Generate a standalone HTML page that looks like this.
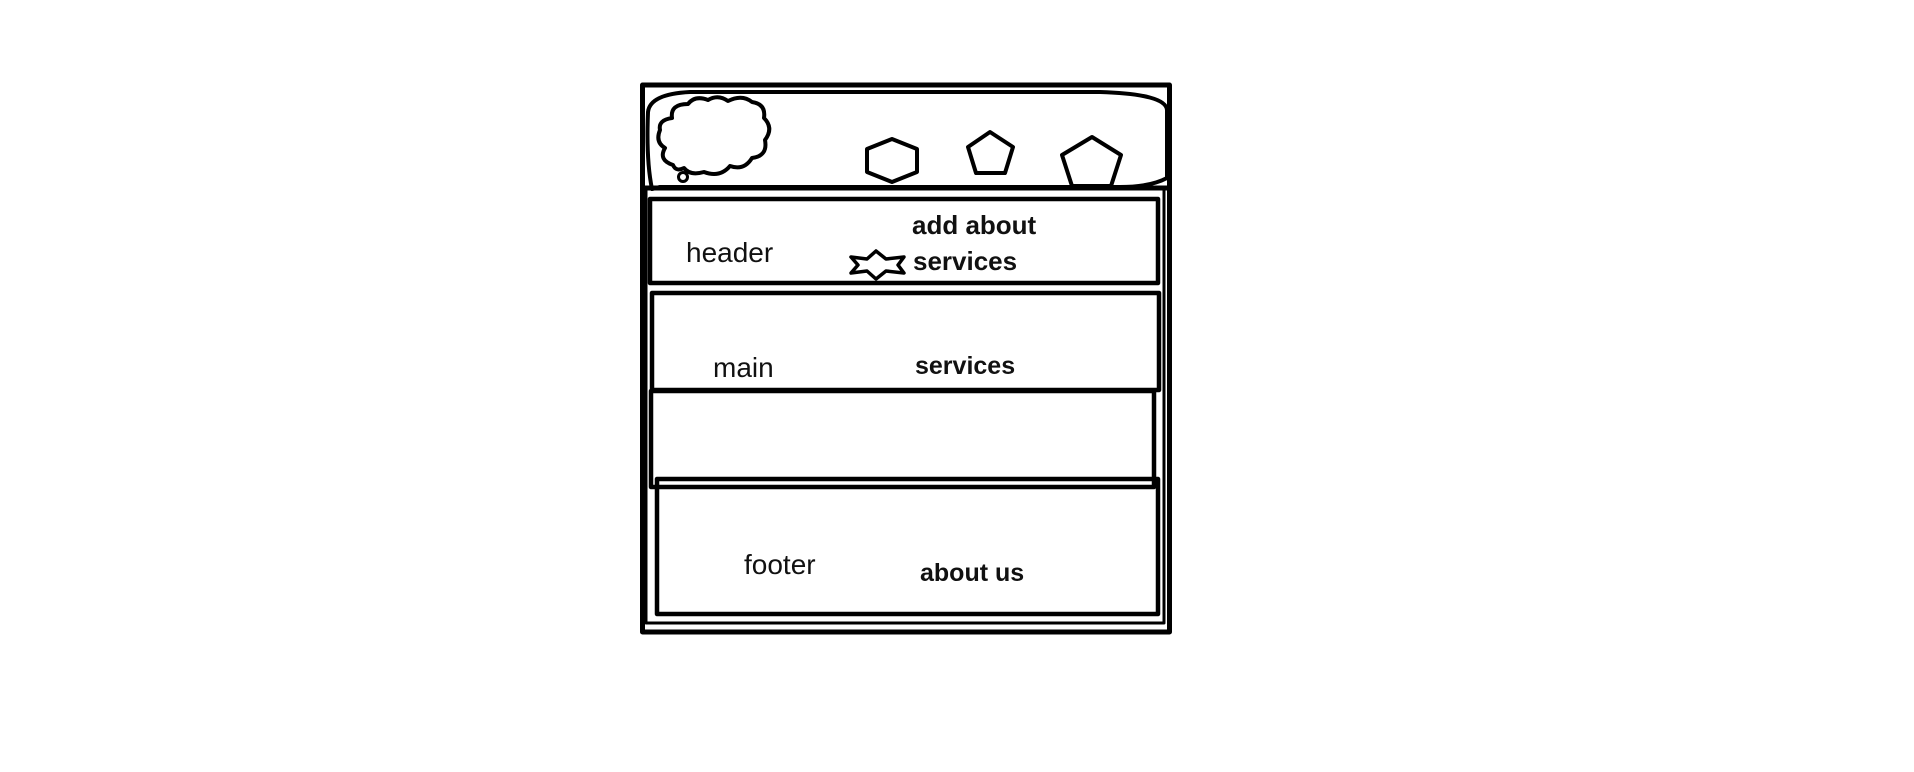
<!DOCTYPE html>
<html><head><meta charset="utf-8"><style>
html,body{margin:0;padding:0;background:#fff;width:1914px;height:772px;overflow:hidden}
svg{display:block}
text{font-family:"Liberation Sans",sans-serif;fill:#111}
</style></head><body>
<svg width="1914" height="772" viewBox="0 0 1914 772" xmlns="http://www.w3.org/2000/svg">
<g fill="none" stroke="#000" stroke-linejoin="round">
<rect x="642.5" y="85" width="527" height="547" stroke-width="5"/>
<rect x="646" y="189" width="518" height="434" stroke-width="3"/>
<path d="M652 189 Q646 160 648 112 Q650 94 690 92 L1100 92 Q1166 94 1167 110 L1167 178 Q1150 187 1120 187 L660 187 Z" stroke-width="4" fill="#fff"/>
<line x1="645" y1="188" x2="1168" y2="188" stroke-width="5"/>
<path d="M673 165 Q658 160 665 148 Q655 142 660 130 Q658 120 672 118 Q670 104 688 104 Q695 95 708 100 Q718 94 728 101 Q742 94 752 102 Q766 104 764 118 Q774 128 765 140 Q768 156 752 158 Q744 171 730 166 Q720 178 704 172 Q690 176 684 168 Q676 172 673 165 Z" stroke-width="4" fill="#fff"/>
<circle cx="683" cy="177" r="4.5" stroke-width="3"/>
<polygon points="892,139 917,149 917,172 892,182 867,172 867,149" stroke-width="4"/>
<polygon points="990,132 1013,147 1005,173 976,173 968,147" stroke-width="4"/>
<polygon points="1092,137 1121,155 1111,186 1072,186 1062,155" stroke-width="4"/>
<rect x="650" y="199" width="508" height="84" stroke-width="4.5"/>
<rect x="652" y="293" width="507" height="97" stroke-width="4.5"/>
<rect x="651" y="391" width="503" height="96" stroke-width="4.5"/>
<rect x="657" y="479" width="501" height="135" stroke-width="4.5"/>
<polygon points="851,257 867,259 876,251 886,259 904,257 898,265 904,273 886,271 876,279 867,271 851,273 858,265" stroke-width="3.5" fill="#fff"/>
</g>
<text x="686" y="262" font-size="28">header</text>
<text x="912" y="234" font-size="26" font-weight="bold">add about</text>
<text x="913" y="270" font-size="26" font-weight="bold">services</text>
<text x="713" y="377" font-size="28">main</text>
<text x="915" y="374" font-size="25" font-weight="bold">services</text>
<text x="744" y="574" font-size="28">footer</text>
<text x="920" y="581" font-size="25" font-weight="bold">about us</text>
</svg>
</body></html>
